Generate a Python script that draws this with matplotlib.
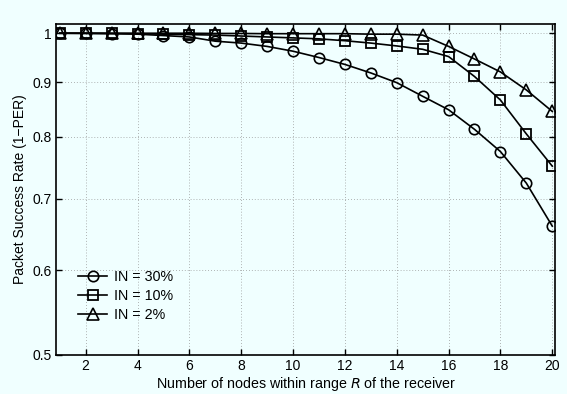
import matplotlib
matplotlib.use("Agg")
import matplotlib.pyplot as plt
from matplotlib.ticker import FixedLocator, FixedFormatter, NullLocator

plt.rcParams['font.family'] = ['Liberation Sans', 'DejaVu Sans']

nodes = list(range(1, 21))
in30 = [1.0, 0.9995, 0.999, 0.998, 0.995, 0.992, 0.983, 0.979, 0.972, 0.962,
        0.949, 0.935, 0.918, 0.899, 0.873, 0.848, 0.813, 0.775, 0.724, 0.660]
in10 = [1.0, 1.0, 0.9995, 0.999, 0.998, 0.997, 0.996, 0.994, 0.992, 0.990,
        0.988, 0.984, 0.979, 0.973, 0.966, 0.951, 0.911, 0.866, 0.805, 0.751]
in2 = [1.0, 1.0, 1.0, 1.0, 1.0, 1.0, 0.9995, 0.9995, 0.999, 0.999,
       0.999, 0.999, 0.998, 0.998, 0.996, 0.972, 0.946, 0.920, 0.885, 0.845]
labels = ['IN = 30%', 'IN = 10%', 'IN = 2%']
xticks = [2, 4, 6, 8, 10, 12, 14, 16, 18, 20]
yticks = [0.5, 0.6, 0.7, 0.8, 0.9, 1.0]
yticklabels = ['0.5', '0.6', '0.7', '0.8', '0.9', '1']

bg = '#F0FFFF'
fig = plt.figure(figsize=(5.67, 3.94), dpi=100, facecolor=bg)
ax = fig.add_axes([0.0985, 0.099, 0.881, 0.840], facecolor=bg)

ax.plot(nodes, in30, '-', color='black', lw=1.2, marker='o', ms=7.5,
        mfc='none', mec='black', mew=1.2, label=labels[0])
ax.plot(nodes, in10, '-', color='black', lw=1.2, marker='s', ms=6.5,
        mfc='none', mec='black', mew=1.3, label=labels[1])
ax.plot(nodes, in2, '-', color='black', lw=1.2, marker='^', ms=8.5,
        mfc='none', mec='black', mew=1.2, label=labels[2])

ax.set_yscale('log')
ax.set_ylim(0.5, 1.02)
ax.set_xlim(0.85, 20.12)
ax.yaxis.set_major_locator(FixedLocator(yticks))
ax.yaxis.set_major_formatter(FixedFormatter(yticklabels))
ax.yaxis.set_minor_locator(NullLocator())
ax.set_xticks(xticks)
ax.set_xticklabels([str(t) for t in xticks])

ax.grid(True, which='major', color='#9a9a9a', linestyle=(0, (1, 2.5)), lw=0.6)
ax.tick_params(direction='in', top=True, right=True, length=4, width=1,
               labelsize=10, pad=3)
for s in ax.spines.values():
    s.set_linewidth(1.2)

ax.set_xlabel('Number of nodes within range $R$ of the receiver', fontsize=10.3, labelpad=1)
ax.set_ylabel('Packet Success Rate (1\u2212PER)', fontsize=10, labelpad=4)

leg = ax.legend(loc='lower left', bbox_to_anchor=(0.025, 0.07), frameon=False,
                fontsize=10.3, handlelength=2.0, handletextpad=0.5,
                labelspacing=0.35, borderpad=0.2)

fig.savefig('out.png', dpi=100, facecolor=bg)
